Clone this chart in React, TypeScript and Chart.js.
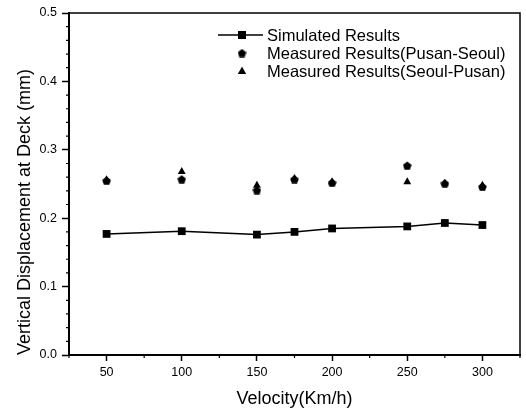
import React, { useEffect, useRef } from "react";
import { Chart, registerables } from "chart.js";

Chart.register(...registerables);

const velocities = [50, 100, 150, 175, 200, 250, 275, 300];
const simulated = [0.177, 0.181, 0.176, 0.18, 0.185, 0.188, 0.193, 0.19];
const pusanSeoul = [0.255, 0.257, 0.241, 0.257, 0.252, 0.277, 0.251, 0.246];
const seoulPusan = [0.256, 0.268, 0.248, 0.258, 0.253, 0.253, 0.251, 0.248];
const seriesLabels = [
  "Simulated Results",
  "Measured Results(Pusan-Seoul)",
  "Measured Results(Seoul-Pusan)",
];
const xMajorTicks = [50, 100, 150, 200, 250, 300];
const xMinorTicks = [25, 75, 125, 175, 225, 275, 325];
const yMinorTicks = [0.02, 0.04, 0.06, 0.08, 0.12, 0.14, 0.16, 0.18, 0.22, 0.24, 0.26, 0.28, 0.32, 0.34, 0.36, 0.38, 0.42, 0.44, 0.46, 0.48];
const xTitle = "Velocity(Km/h)";
const yTitle = "Vertical Displacement at Deck (mm)";

const FONT = "'Liberation Sans', Arial, sans-serif";

function makePentagon(size: number): HTMLCanvasElement {
  const c = document.createElement("canvas");
  c.width = size;
  c.height = size;
  const ctx = c.getContext("2d")!;
  const cx = size / 2;
  const cy = size / 2 + 0.6;
  const r = size / 2;
  ctx.beginPath();
  for (let i = 0; i < 5; i++) {
    const a = -Math.PI / 2 + (i * 2 * Math.PI) / 5;
    const px = cx + r * Math.cos(a);
    const py = cy + r * Math.sin(a);
    if (i === 0) ctx.moveTo(px, py);
    else ctx.lineTo(px, py);
  }
  ctx.closePath();
  ctx.fillStyle = "#000";
  ctx.fill();
  return c;
}

const framePlugin = {
  id: "frameAndMinor",
  afterDraw(chart: any) {
    const { ctx, chartArea } = chart;
    const { left, right, top, bottom } = chartArea;
    const xs = chart.scales.x;
    const ys = chart.scales.y;
    ctx.save();
    ctx.strokeStyle = "#000";
    ctx.lineWidth = 1.5;
    ctx.beginPath();
    ctx.moveTo(left, top);
    ctx.lineTo(right, top);
    ctx.lineTo(right, bottom);
    ctx.stroke();
    ctx.lineWidth = 1.2;
    ctx.beginPath();
    xMinorTicks.forEach((v) => {
      const px = xs.getPixelForValue(v);
      ctx.moveTo(px, bottom);
      ctx.lineTo(px, bottom + 3);
    });
    yMinorTicks.forEach((v) => {
      const py = ys.getPixelForValue(v);
      ctx.moveTo(left, py);
      ctx.lineTo(left - 3, py);
    });
    ctx.stroke();
    ctx.restore();
  },
};

const legendPlugin = {
  id: "customLegend",
  afterDraw(chart: any) {
    const { ctx, chartArea } = chart;
    const mx = chartArea.left + 173;
    const tx = chartArea.left + 198;
    const y0 = chartArea.top + 22;
    const gap = 18;
    ctx.save();
    ctx.fillStyle = "#000";
    ctx.strokeStyle = "#000";
    // row 1: line + square
    ctx.lineWidth = 1.5;
    ctx.beginPath();
    ctx.moveTo(mx - 24, y0);
    ctx.lineTo(mx + 21, y0);
    ctx.stroke();
    ctx.fillRect(mx - 4, y0 - 4, 8, 8);
    // row 2: pentagon
    const pent = makePentagon(9);
    ctx.drawImage(pent, mx - 4.5, y0 + gap - 4.5);
    // row 3: triangle
    const ty = y0 + 2 * gap;
    ctx.beginPath();
    ctx.moveTo(mx, ty - 4.5);
    ctx.lineTo(mx + 4.2, ty + 3);
    ctx.lineTo(mx - 4.2, ty + 3);
    ctx.closePath();
    ctx.fill();
    ctx.font = `16.5px ${FONT}`;
    ctx.textBaseline = "middle";
    ctx.textAlign = "left";
    chart.data.datasets.forEach((ds: any, i: number) => {
      ctx.fillText(ds.label, tx, y0 + i * gap + 1);
    });
    ctx.restore();
  },
};

export default function App() {
  const canvasRef = useRef<HTMLCanvasElement | null>(null);

  useEffect(() => {
    if (!canvasRef.current) return;
    const pentagon = makePentagon(9);
    const chart = new Chart(canvasRef.current, {
      type: "line",
      data: {
        datasets: [
          {
            label: seriesLabels[0],
            data: velocities.map((v, i) => ({ x: v, y: simulated[i] })),
            borderColor: "#000",
            backgroundColor: "#000",
            borderWidth: 1.5,
            pointStyle: "rect",
            pointRadius: 5.5,
            pointBorderWidth: 0,
            showLine: true,
          },
          {
            label: seriesLabels[1],
            data: velocities.map((v, i) => ({ x: v, y: pusanSeoul[i] })),
            borderColor: "#000",
            backgroundColor: "#000",
            pointStyle: pentagon as any,
            pointRadius: 5,
            showLine: false,
          },
          {
            label: seriesLabels[2],
            data: velocities.map((v, i) => ({ x: v, y: seoulPusan[i] })),
            borderColor: "#000",
            backgroundColor: "#000",
            pointStyle: "triangle",
            pointRadius: 4.6,
            pointBorderWidth: 0,
            showLine: false,
          },
        ],
      },
      options: {
        animation: false,
        responsive: false,
        maintainAspectRatio: false,
        layout: { padding: { left: 0, right: 6, top: 13, bottom: 0 } },
        plugins: {
          legend: { display: false },
          tooltip: { enabled: false },
        },
        scales: {
          x: {
            type: "linear",
            min: 25,
            max: 325,
            afterBuildTicks: (scale: any) => {
              scale.ticks = xMajorTicks.map((v) => ({ value: v }));
            },
            afterFit: (scale: any) => {
              scale.height = 55;
            },
            ticks: {
              color: "#000",
              font: { family: FONT, size: 12.5 },
              padding: 4,
              maxRotation: 0,
              autoSkip: false,
            },
            grid: {
              drawOnChartArea: false,
              drawTicks: true,
              tickLength: 6,
              tickColor: "#000",
              tickWidth: 1.5,
            },
            border: { display: true, color: "#000", width: 2 },
            title: {
              display: true,
              text: xTitle,
              color: "#000",
              font: { family: FONT, size: 18 },
              padding: { top: 0, bottom: 0 },
            },
          },
          y: {
            type: "linear",
            min: 0,
            max: 0.5,
            afterFit: (scale: any) => {
              scale.width = 69;
            },
            ticks: {
              stepSize: 0.1,
              color: "#000",
              font: { family: FONT, size: 12.5 },
              padding: 5,
              callback: (v: any) => Number(v).toFixed(1),
            },
            grid: {
              drawOnChartArea: false,
              drawTicks: true,
              tickLength: 7,
              tickColor: "#000",
              tickWidth: 1.5,
            },
            border: { display: true, color: "#000", width: 2 },
            title: {
              display: true,
              text: yTitle,
              align: "start",
              color: "#000",
              font: { family: FONT, size: 18 },
              padding: { top: 14, bottom: 0 },
            },
          },
        },
      },
      plugins: [framePlugin, legendPlugin],
    });
    return () => chart.destroy();
  }, []);

  return (
    <div style={{ position: "fixed", left: 0, top: 0, width: 526, height: 410, background: "#fff" }}>
      <canvas ref={canvasRef} width={526} height={410} style={{ width: 526, height: 410 }} />
    </div>
  );
}
